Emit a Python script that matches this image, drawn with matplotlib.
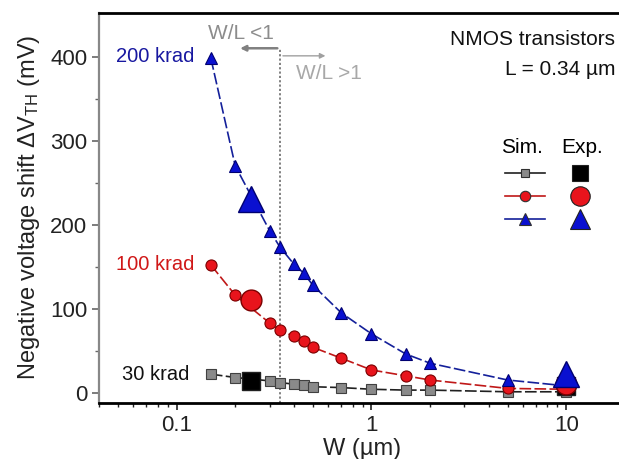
import numpy as np
import matplotlib
matplotlib.use("Agg")
import matplotlib.pyplot as plt

plt.rcParams['font.family'] = ['Liberation Sans', 'DejaVu Sans']
plt.rcParams['mathtext.fontset'] = 'custom'
plt.rcParams['mathtext.rm'] = 'Liberation Sans'
plt.rcParams['mathtext.it'] = 'Liberation Sans:italic'

# simulated threshold shift vs channel width (mV)
w_sim = [0.15, 0.2, 0.3, 0.34, 0.4, 0.45, 0.5, 0.7, 1.0, 1.5, 2.0, 5.0, 10.0]
sim_200 = [398, 270, 193, 173, 153, 142, 128, 95, 70, 46, 35, 15, 8]
sim_100 = [152, 116, 83, 74, 67, 61, 54, 41, 27, 20, 15, 5, 4]
sim_30 = [22, 18, 14, 12, 10, 9, 7, 6, 4, 3, 3, 1, 1]

# measured points
w_exp = [0.24, 10.0]
exp_200 = [231, 22]
exp_100 = [110, 10]
exp_30 = [14, 8]

L = 0.34

blue = '#0a10d0'
red = '#e8141c'
grey = '#8a8a8a'

fig = plt.figure(figsize=(6.19, 4.59), dpi=100)
ax = fig.add_axes([99/619, 56.3/459, 526/619, 389.7/459])

dash = (0, (7, 2))
ax.plot(w_sim, sim_30, color='#202020', lw=1.2, linestyle=dash, marker='s', ms=6.5,
        mfc=grey, mec='#404040', mew=0.8, zorder=3)
ax.plot(w_sim, sim_100, color='#c01818', lw=1.2, linestyle=dash, marker='o', ms=8,
        mfc=red, mec='#7a0000', mew=0.8, zorder=3)
ax.plot(w_sim, sim_200, color='#14209a', lw=1.2, linestyle=dash, marker='^', ms=9,
        mfc=blue, mec='#000070', mew=0.8, zorder=3)

ax.plot(w_exp, exp_30, ls='none', marker='s', ms=13, mfc='black', mec='#202020', zorder=4)
ax.plot(w_exp, exp_100, ls='none', marker='o', ms=15, mfc=red, mec='#7a0000', mew=1, zorder=4)
ax.plot(w_exp, exp_200, ls='none', marker='^', ms=19, mfc=blue, mec='#000070', mew=1, zorder=5)

# W = L boundary
ax.plot([L, L], [-12, 410], color='#777777', lw=1.3, ls=(0, (1.2, 1.2)), zorder=2)
ax.annotate('', xy=(0.205, 410), xytext=(L, 410),
            arrowprops=dict(arrowstyle='-|>', color='#808080', lw=1.8, mutation_scale=8))
ax.annotate('', xy=(0.6, 401), xytext=(L, 401),
            arrowprops=dict(arrowstyle='-|>', color='#a0a0a0', lw=1.0, mutation_scale=8))
ax.text(0.215, 428, 'W/L <1', color='#8c8c8c', fontsize=15, ha='center', va='center')
ax.text(0.41, 380, 'W/L >1', color='#a8a8a8', fontsize=15, ha='left', va='center')

ax.text(0.124, 400, '200 krad', color='#1818a0', fontsize=14.5, ha='right', va='center')
ax.text(0.124, 153, '100 krad', color='#d01818', fontsize=14.5, ha='right', va='center')
ax.text(0.116, 21, '30 krad', color='#111111', fontsize=14.5, ha='right', va='center')

ax.text(0.981, 0.931, 'NMOS transistors', transform=ax.transAxes, fontsize=15,
        ha='right', va='center', color='#111111')
ax.text(0.981, 0.854, 'L = 0.34 µm', transform=ax.transAxes, fontsize=15,
        ha='right', va='center', color='#111111')

# hand-built legend
tr = ax.transAxes
ax.text(0.804, 0.656, 'Sim.', transform=tr, fontsize=15, ha='center', va='center')
ax.text(0.918, 0.656, 'Exp.', transform=tr, fontsize=15, ha='center', va='center')
rows = [(0.589, 's', grey, '#202020', 'black', 6, 12),
        (0.530, 'o', red, '#c01818', red, 7.5, 14),
        (0.471, '^', blue, '#14209a', blue, 8.5, 15)]
for y, m, fc, lc, efc, ms_s, ms_e in rows:
    ax.plot([0.772, 0.848], [y, y], color=lc, lw=1.2, transform=tr, clip_on=False)
    ax.plot([0.810], [y], marker=m, ms=ms_s, mfc=fc, mec='#303030', mew=0.8,
            transform=tr, clip_on=False)
    ax.plot([0.914], [y], marker=m, ms=ms_e, mfc=efc, mec='#202020', mew=0.8,
            transform=tr, clip_on=False)

ax.set_xscale('log')
ax.set_xlim(0.04, 20)
ax.set_ylim(-12, 452)
ax.set_yticks([0, 100, 200, 300, 400])
ax.set_yticks([50, 150, 250, 350], minor=True)
ax.set_xticks([0.1, 1, 10])
ax.set_xticklabels(['0.1', '1', '10'])

ax.tick_params(axis='both', which='major', direction='out', length=5, width=1.2,
               labelsize=16, colors='#222222')
ax.tick_params(axis='both', which='minor', direction='out', length=3, width=1.0,
               colors='#222222')
ax.tick_params(axis='y', which='both', color='#666666')

ax.spines['right'].set_visible(False)
ax.spines['top'].set_linewidth(2.0)
ax.spines['bottom'].set_linewidth(2.0)
ax.spines['left'].set_color('#888888')
ax.spines['left'].set_linewidth(1.6)

ax.set_xlabel('W (µm)', fontsize=17, color='#222222', labelpad=2)
ax.set_ylabel(r'Negative voltage shift $\Delta$V$_{\mathrm{TH}}$ (mV)', fontsize=17,
              color='#222222', labelpad=6)

fig.savefig('out.png', dpi=100)
